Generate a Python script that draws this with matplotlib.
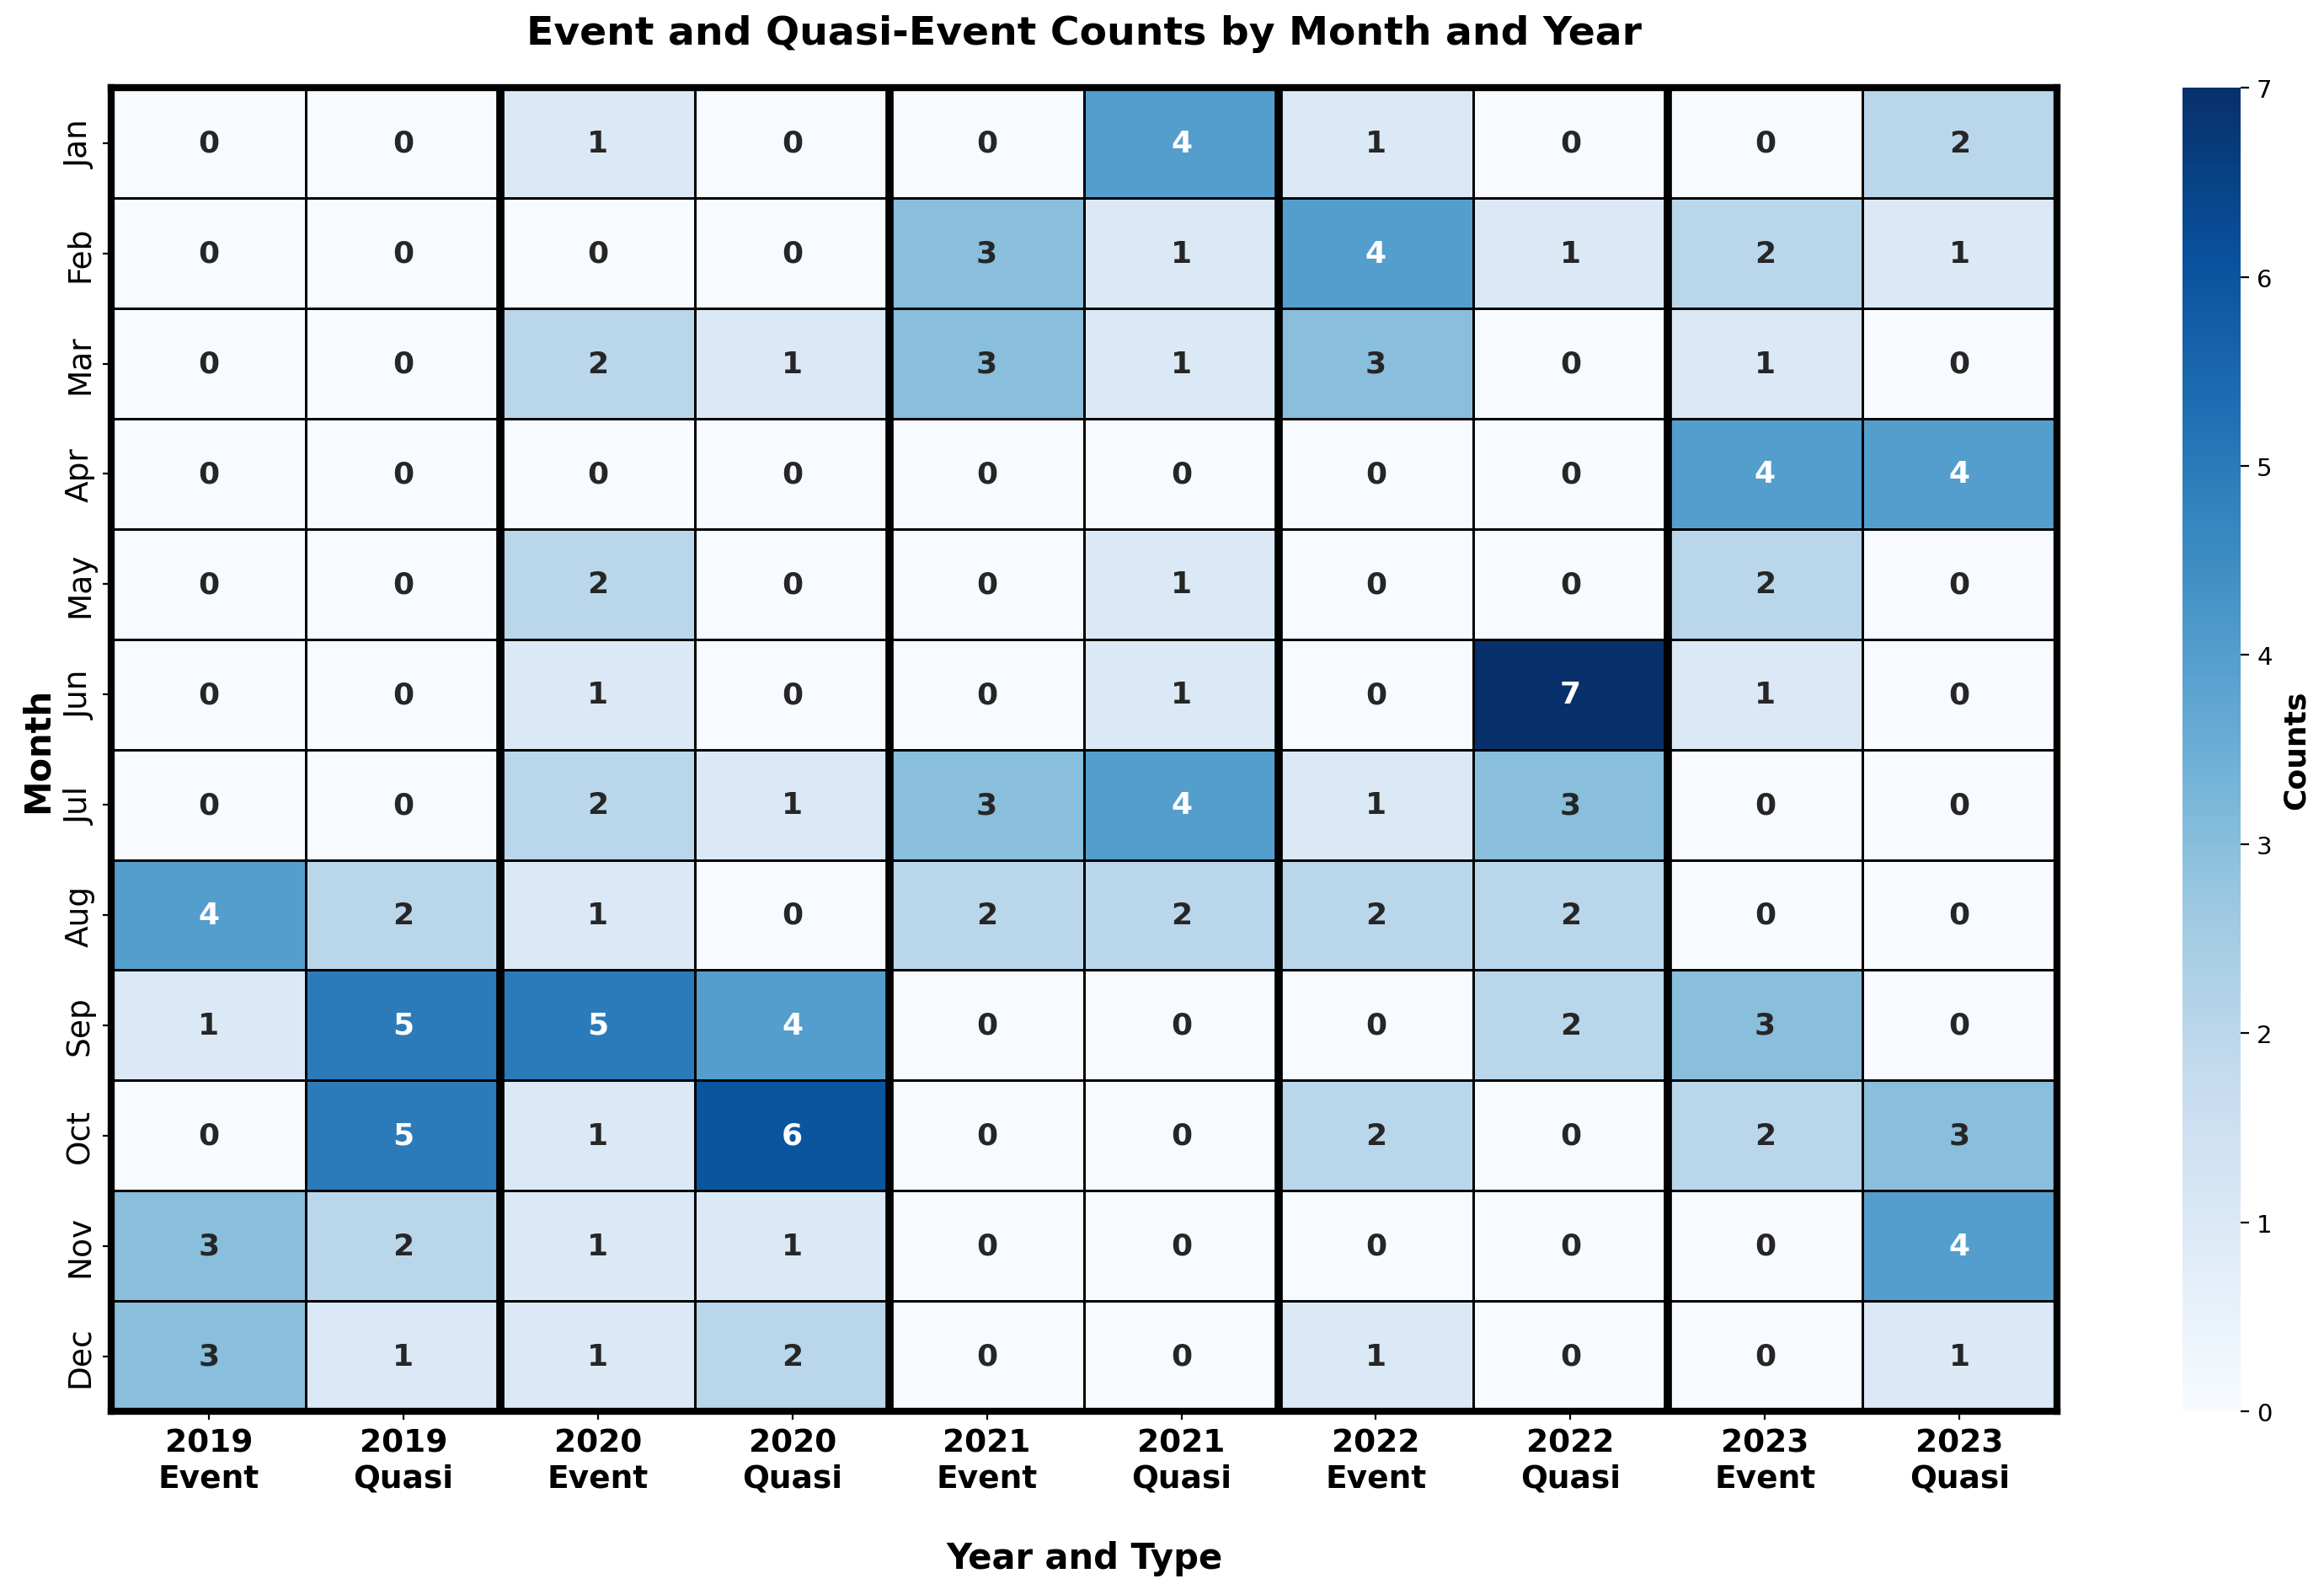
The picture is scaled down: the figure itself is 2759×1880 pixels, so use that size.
import numpy as np
import matplotlib
matplotlib.use("Agg")
import matplotlib.pyplot as plt
import seaborn as sns

months = ['Jan', 'Feb', 'Mar', 'Apr', 'May', 'Jun',
          'Jul', 'Aug', 'Sep', 'Oct', 'Nov', 'Dec']
years = ['2019', '2020', '2021', '2022', '2023']
types = ['Event', 'Quasi']

# columns: 2019 Event, 2019 Quasi, 2020 Event, ... 2023 Quasi
counts = [
    [0, 0, 1, 0, 0, 4, 1, 0, 0, 2],
    [0, 0, 0, 0, 3, 1, 4, 1, 2, 1],
    [0, 0, 2, 1, 3, 1, 3, 0, 1, 0],
    [0, 0, 0, 0, 0, 0, 0, 0, 4, 4],
    [0, 0, 2, 0, 0, 1, 0, 0, 2, 0],
    [0, 0, 1, 0, 0, 1, 0, 7, 1, 0],
    [0, 0, 2, 1, 3, 4, 1, 3, 0, 0],
    [4, 2, 1, 0, 2, 2, 2, 2, 0, 0],
    [1, 5, 5, 4, 0, 0, 0, 2, 3, 0],
    [0, 5, 1, 6, 0, 0, 2, 0, 2, 3],
    [3, 2, 1, 1, 0, 0, 0, 0, 0, 4],
    [3, 1, 1, 2, 0, 0, 1, 0, 0, 1],
]

col_labels = [f'{y}\n{t}' for y in years for t in types]
data = np.array(counts)

fig = plt.figure(figsize=(13.795, 9.405), dpi=200)
ax = fig.add_axes([0.048, 0.109, 0.837, 0.835])
cax = fig.add_axes([0.939, 0.109, 0.025, 0.835])

sns.heatmap(data, ax=ax, cbar_ax=cax, cmap='Blues', vmin=0, vmax=7,
            annot=True, fmt='d', linewidths=1, linecolor='black',
            annot_kws={'fontsize': 13, 'fontweight': 'bold'},
            xticklabels=col_labels, yticklabels=months)

# thick separators between years and frame
for x in range(2, len(col_labels), 2):
    ax.axvline(x, color='black', linewidth=3.5)
for s in ax.spines.values():
    s.set_visible(True)
    s.set_linewidth(3)
    s.set_color('black')

ax.set_title('Event and Quasi-Event Counts by Month and Year',
             fontsize=17, fontweight='bold', pad=19)
ax.set_xlabel('Year and Type', fontsize=15, fontweight='bold', labelpad=20)
ax.set_ylabel('Month', fontsize=15, fontweight='bold')
ax.tick_params(axis='x', labelsize=13.5, rotation=0)
ax.tick_params(axis='y', labelsize=13.5, rotation=90)
for lab in ax.get_xticklabels():
    lab.set_fontweight('bold')
for lab in ax.get_yticklabels():
    lab.set_va('center')

cax.tick_params(labelsize=10.5)
cax.set_ylabel('Counts', fontsize=13, fontweight='bold')

fig.savefig('out.png', dpi=200)
